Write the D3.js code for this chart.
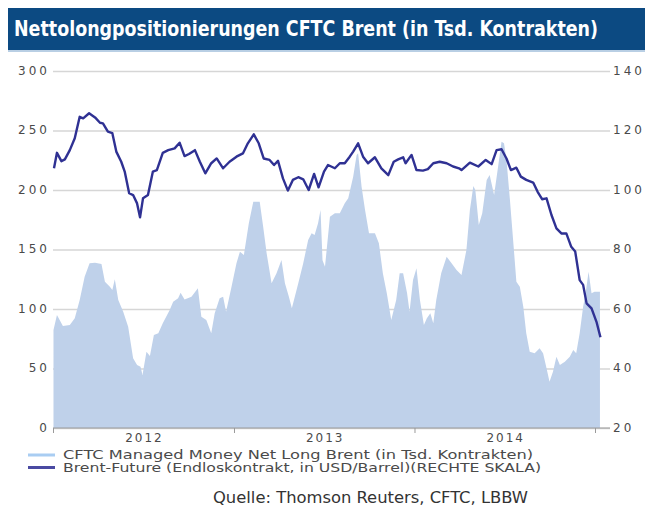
<!DOCTYPE html>
<html>
<head>
<meta charset="utf-8">
<script src="https://cdn.jsdelivr.net/npm/d3@7"></script>
<style>
  body { margin: 0; background: #fff; }
  svg { display: block; }
  .tick text { font-family: "DejaVu Sans", Verdana, sans-serif; font-size: 12px; fill: #4a4a4a; letter-spacing: 3px; }
</style>
</head>
<body>
<div id="chart"></div>
<script>
// Brent-Future, USD/Barrel (right scale)
const brentDates = [
    "2012-01-03", "2012-01-09", "2012-01-18", "2012-01-25", "2012-02-04", "2012-02-14", "2012-02-24", "2012-03-02",
    "2012-03-14", "2012-03-26", "2012-04-05", "2012-04-11", "2012-04-21", "2012-04-30", "2012-05-08", "2012-05-18",
    "2012-05-25", "2012-06-03", "2012-06-11", "2012-06-19", "2012-06-25", "2012-07-01", "2012-07-11", "2012-07-21",
    "2012-07-29", "2012-08-10", "2012-08-21", "2012-09-03", "2012-09-13", "2012-09-23", "2012-10-02", "2012-10-14",
    "2012-10-24", "2012-11-04", "2012-11-16", "2012-11-27", "2012-12-10", "2012-12-23", "2013-01-06", "2013-01-19",
    "2013-01-29", "2013-02-10", "2013-02-20", "2013-03-02", "2013-03-14", "2013-03-23", "2013-03-31", "2013-04-10",
    "2013-04-20", "2013-04-30", "2013-05-11", "2013-05-21", "2013-06-01", "2013-06-12", "2013-06-21", "2013-07-02",
    "2013-07-10", "2013-07-24", "2013-08-03", "2013-08-13", "2013-08-23", "2013-08-30", "2013-09-09", "2013-09-19",
    "2013-09-29", "2013-10-13", "2013-10-26", "2013-11-09", "2013-11-20", "2013-11-29", "2013-12-09", "2013-12-14",
    "2013-12-26", "2014-01-05", "2014-01-18", "2014-01-28", "2014-02-08", "2014-02-21", "2014-03-07", "2014-03-20",
    "2014-04-01", "2014-04-06", "2014-04-23", "2014-05-10", "2014-05-25", "2014-06-06", "2014-06-16", "2014-06-26",
    "2014-07-06", "2014-07-15", "2014-07-26", "2014-08-04", "2014-08-15", "2014-08-29", "2014-09-07", "2014-09-16",
    "2014-09-25", "2014-10-05", "2014-10-15", "2014-10-25", "2014-11-04", "2014-11-14", "2014-11-22", "2014-12-01",
    "2014-12-08", "2014-12-15", "2014-12-25", "2015-01-04", "2015-01-12"
];
const brentPrice = [
    107.3, 112.5, 109.7, 110.3, 113.4, 117.4, 124.6, 124.1,
    125.8, 124.4, 122.6, 122.4, 119.6, 119.1, 112.9, 109.5,
    106.2, 98.9, 98.3, 95.5, 90.8, 97.2, 98.3, 106.2,
    106.7, 112.5, 113.4, 114.0, 115.9, 111.4, 112.1, 113.4,
    109.5, 105.6, 109.0, 110.6, 107.3, 109.5, 111.2, 112.3,
    115.7, 118.7, 115.7, 110.6, 110.1, 108.4, 109.8, 103.9,
    99.8, 103.4, 104.3, 103.6, 100.0, 105.4, 100.9, 106.2,
    108.4, 107.3, 109.0, 109.0, 111.2, 112.9, 115.7, 111.2,
    109.0, 111.0, 107.3, 105.0, 109.5, 110.3, 111.0, 109.0,
    111.8, 106.7, 106.5, 107.0, 109.0, 109.5, 109.0, 107.9,
    107.3, 106.7, 109.2, 107.9, 110.1, 108.7, 113.4, 113.7,
    110.6, 106.7, 107.5, 104.5, 103.4, 102.5, 99.4, 96.9,
    97.2, 91.6, 87.1, 85.4, 85.4, 80.9, 79.3, 69.7,
    68.1, 61.9, 60.2, 55.7, 50.5
];

// CFTC Managed Money Net Long Brent, Tsd. Kontrakte (left scale)
const cftcDates = [
    "2012-01-02", "2012-01-09", "2012-01-21", "2012-02-04", "2012-02-14", "2012-02-24", "2012-03-05", "2012-03-15",
    "2012-03-26", "2012-04-08", "2012-04-15", "2012-04-25", "2012-04-30", "2012-05-05", "2012-05-12", "2012-05-22",
    "2012-06-01", "2012-06-11", "2012-06-19", "2012-06-26", "2012-06-30", "2012-07-08", "2012-07-15", "2012-07-23",
    "2012-08-01", "2012-08-10", "2012-08-24", "2012-08-31", "2012-09-10", "2012-09-15", "2012-09-23", "2012-10-07",
    "2012-10-20", "2012-10-27", "2012-11-06", "2012-11-16", "2012-11-23", "2012-12-03", "2012-12-10", "2012-12-16",
    "2012-12-27", "2013-01-06", "2013-01-13", "2013-01-21", "2013-01-31", "2013-02-09", "2013-02-22", "2013-03-01",
    "2013-03-08", "2013-03-18", "2013-03-28", "2013-04-07", "2013-04-14", "2013-04-22", "2013-04-28", "2013-05-11",
    "2013-05-21", "2013-05-31", "2013-06-07", "2013-06-13", "2013-06-20", "2013-06-25", "2013-06-29", "2013-07-04",
    "2013-07-14", "2013-07-24", "2013-08-03", "2013-08-13", "2013-08-20", "2013-08-30", "2013-09-06", "2013-09-09",
    "2013-09-16", "2013-09-23", "2013-10-01", "2013-10-13", "2013-10-21", "2013-10-29", "2013-11-06", "2013-11-15",
    "2013-11-25", "2013-12-02", "2013-12-09", "2013-12-17", "2013-12-22", "2013-12-29", "2014-01-05", "2014-01-12",
    "2014-01-20", "2014-01-26", "2014-02-02", "2014-02-08", "2014-02-14", "2014-02-24", "2014-03-07", "2014-03-17",
    "2014-03-27", "2014-04-06", "2014-04-16", "2014-04-23", "2014-04-30", "2014-05-04", "2014-05-11", "2014-05-18",
    "2014-05-27", "2014-06-02", "2014-06-11", "2014-06-19", "2014-06-26", "2014-07-01", "2014-07-06", "2014-07-13",
    "2014-07-21", "2014-07-26", "2014-08-02", "2014-08-09", "2014-08-15", "2014-08-22", "2014-09-01", "2014-09-11",
    "2014-09-18", "2014-09-25", "2014-10-01", "2014-10-08", "2014-10-15", "2014-10-22", "2014-11-01", "2014-11-11",
    "2014-11-18", "2014-11-24", "2014-12-01", "2014-12-08", "2014-12-13", "2014-12-19", "2014-12-25", "2014-12-31",
    "2015-01-11"
];
const cftcNetLong = [
    82.4, 95.0, 85.7, 86.6, 92.2, 107.6, 127.1, 138.4,
    138.9, 137.8, 122.9, 118.7, 116.0, 125.0, 107.6, 97.7,
    85.1, 58.6, 52.9, 51.5, 44.5, 64.1, 60.5, 78.2,
    79.6, 88.0, 99.2, 106.1, 109.0, 113.7, 108.0, 110.3,
    117.4, 93.5, 90.8, 79.6, 96.4, 109.0, 110.3, 97.7,
    118.7, 138.4, 148.2, 145.4, 172.0, 190.2, 190.2, 169.2,
    146.8, 121.6, 130.0, 141.2, 121.6, 110.3, 100.6, 121.6,
    138.4, 158.0, 163.6, 162.2, 172.0, 183.2, 141.0, 135.5,
    177.6, 180.4, 180.4, 188.8, 193.0, 211.2, 229.4, 230.8,
    202.8, 183.2, 163.6, 163.6, 155.2, 130.0, 113.2, 90.8,
    107.6, 130.0, 130.0, 113.2, 97.7, 124.4, 134.2, 107.6,
    86.6, 92.2, 96.4, 88.0, 107.6, 130.0, 144.0, 138.4,
    132.8, 128.6, 149.6, 183.2, 203.4, 200.0, 170.6, 180.4,
    208.4, 212.6, 195.8, 219.6, 240.6, 239.2, 225.2, 191.6,
    149.6, 122.9, 118.7, 101.9, 79.6, 64.1, 62.8, 67.0,
    62.8, 50.2, 38.9, 47.3, 59.9, 52.9, 55.7, 59.9,
    65.5, 62.8, 79.6, 101.9, 113.2, 131.3, 113.2, 114.5,
    114.5
];

const leftTicks = [0, 50, 100, 150, 200, 250, 300];
const rightTicks = [20, 40, 60, 80, 100, 120, 140];
const yearTicks = ["2012-01-01", "2013-01-01", "2014-01-01", "2015-01-01"];
const yearLabels = ["2012", "2013", "2014"];

const titleText = "Nettolongpositionierungen CFTC Brent (in Tsd. Kontrakten)";
const legendItems = [
    { label: "CFTC Managed Money Net Long Brent (in Tsd. Kontrakten)", color: "#a9cdf2" },
    { label: "Brent-Future (Endloskontrakt, in USD/Barrel)(RECHTE SKALA)", color: "#4a4aa2" }
];
const sourceText = "Quelle: Thomson Reuters, CFTC, LBBW";

const parseDate = d3.timeParse("%Y-%m-%d");
const brent = brentDates.map((d, i) => ({ date: parseDate(d), value: brentPrice[i] }));
const cftc = cftcDates.map((d, i) => ({ date: parseDate(d), value: cftcNetLong[i] }));

const width = 645, height = 509;
const plot = { left: 53, right: 610, top: 71, bottom: 428 };

const svg = d3.select("#chart").append("svg")
    .attr("width", width)
    .attr("height", height);

// title bar
svg.append("rect")
    .attr("x", 8).attr("y", 8)
    .attr("width", width - 8).attr("height", 42)
    .attr("fill", "#0c4a82");
svg.append("rect")
    .attr("x", 8).attr("y", 50)
    .attr("width", width - 8).attr("height", 2)
    .attr("fill", "#b9cfe4");
svg.append("text")
    .attr("x", 14).attr("y", 36)
    .attr("fill", "#fff")
    .attr("font-family", "'DejaVu Sans Condensed', 'Liberation Sans Narrow', 'Arial Narrow', sans-serif")
    .attr("font-size", 21)
    .attr("font-weight", "bold")
    .attr("textLength", 584)
    .attr("lengthAdjust", "spacingAndGlyphs")
    .text(titleText);

// scales
const x = d3.scaleTime()
    .domain([parseDate(yearTicks[0]), parseDate(yearTicks[3])])
    .range([plot.left, 595]);
const yLeft = d3.scaleLinear().domain([0, 300]).range([plot.bottom, plot.top]);
const yRight = d3.scaleLinear().domain([20, 140]).range([plot.bottom, plot.top]);

// gridlines + left axis
const gLeft = svg.append("g")
    .attr("transform", `translate(${plot.left},0)`)
    .call(d3.axisLeft(yLeft).tickValues(leftTicks).tickSize(-(plot.right - plot.left)).tickPadding(3));
gLeft.select(".domain").remove();
gLeft.selectAll(".tick line").attr("stroke", "#d6d6d6").attr("stroke-width", 1.5);
gLeft.selectAll(".tick text").attr("dy", "0.25em");

// right axis labels
const gRight = svg.append("g")
    .attr("transform", `translate(${plot.right},0)`)
    .call(d3.axisRight(yRight).tickValues(rightTicks).tickSize(0).tickPadding(3));
gRight.select(".domain").remove();
gRight.selectAll(".tick text").attr("dy", "0.25em");

// CFTC area
const area = d3.area()
    .x(d => x(d.date))
    .y0(yLeft(0))
    .y1(d => yLeft(d.value));
svg.append("path")
    .datum(cftc)
    .attr("d", area)
    .attr("fill", "#bfd1ea");

// Brent line
const line = d3.line()
    .x(d => x(d.date))
    .y(d => yRight(d.value));
svg.append("path")
    .datum(brent)
    .attr("d", line)
    .attr("fill", "none")
    .attr("stroke", "#2f3193")
    .attr("stroke-width", 2.4)
    .attr("stroke-linejoin", "round");

// x axis
svg.append("line")
    .attr("x1", plot.left).attr("x2", plot.right)
    .attr("y1", plot.bottom).attr("y2", plot.bottom)
    .attr("stroke", "#9a9a9a").attr("stroke-width", 1.2);
const gX = svg.append("g")
    .attr("transform", `translate(0,${plot.bottom})`)
    .call(d3.axisBottom(x).tickValues(yearTicks.map(parseDate)).tickSize(5).tickFormat(""));
gX.select(".domain").remove();
gX.selectAll(".tick line").attr("stroke", "#9a9a9a");

svg.append("g")
    .selectAll("text")
    .data(yearLabels)
    .enter().append("text")
    .attr("x", (d, i) => (x(parseDate(yearTicks[i])) + x(parseDate(yearTicks[i + 1]))) / 2 + 1)
    .attr("y", 442)
    .attr("text-anchor", "middle")
    .attr("font-family", "'DejaVu Sans', Verdana, sans-serif")
    .attr("font-size", 12)
    .attr("letter-spacing", 2)
    .attr("fill", "#4a4a4a")
    .text(d => d);

// legend
const legend = svg.append("g")
    .selectAll("g")
    .data(legendItems)
    .enter().append("g")
    .attr("transform", (d, i) => `translate(0,${455 + i * 12.5})`);
legend.append("line")
    .attr("x1", 28).attr("x2", 55)
    .attr("stroke", d => d.color)
    .attr("stroke-width", 3);
legend.append("text")
    .attr("x", 63).attr("y", 4)
    .attr("font-family", "'DejaVu Sans', Verdana, sans-serif")
    .attr("font-size", 11.5)
    .attr("fill", "#4a4a4a")
    .attr("textLength", (d, i) => i === 0 ? 470 : 478)
    .attr("lengthAdjust", "spacingAndGlyphs")
    .text(d => d.label);

// source
svg.append("text")
    .attr("x", 213).attr("y", 503)
    .attr("font-family", "'DejaVu Sans Condensed', 'Liberation Sans Narrow', sans-serif")
    .attr("font-size", 16)
    .attr("fill", "#333")
    .attr("textLength", 315)
    .attr("lengthAdjust", "spacingAndGlyphs")
    .text(sourceText);
</script>
</body>
</html>
